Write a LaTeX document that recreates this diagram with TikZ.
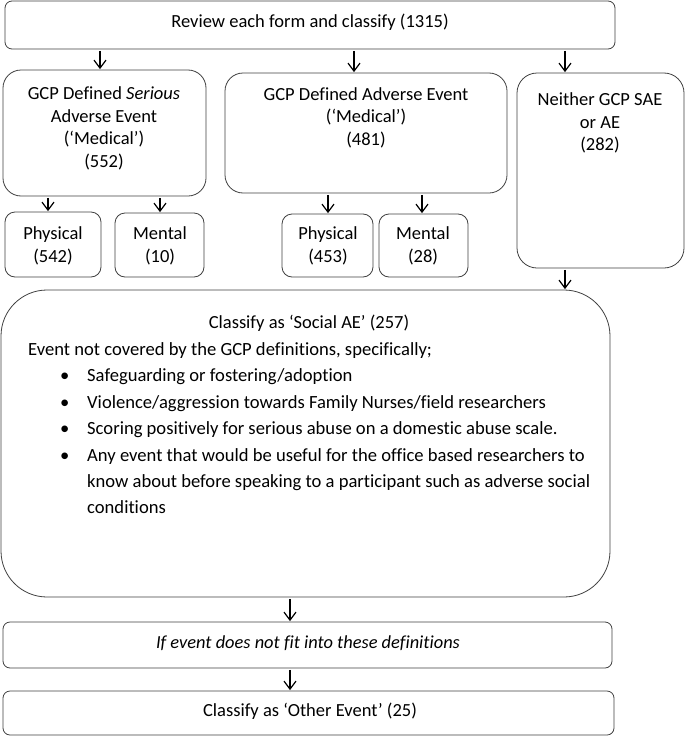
\documentclass[tikz,border=0pt]{standalone}
\usepackage{fontspec}
\setmainfont{Carlito}[Ligatures={NoCommon}]
\usetikzlibrary{arrows.meta}
\tikzset{
  box/.style={draw=black!75, line width=0.8pt, fill=white, inner sep=0pt},
  txt/.style={inner sep=0pt, align=center, font=\fontsize{18.5}{22.5}\selectfont},
  ltxt/.style={inner sep=0pt, anchor=base west, font=\fontsize{18.6}{22}\selectfont},
  arr/.style={draw=black, line width=1.2pt, -{Straight Barb[length=8pt,width=12pt,line width=1.2pt]}, shorten <=1.5pt, shorten >=0.5pt},
}
\begin{document}
\begin{tikzpicture}[x=1pt,y=-1pt]
\useasboundingbox (0,0) rectangle (685,736);
% boxes
\node[box, rounded corners=7pt, minimum width=610pt, minimum height=48pt] (top) at (310,25) {};
\node[box, rounded corners=18pt, minimum width=203pt, minimum height=126pt] (sae) at (104.5,133) {};
\node[box, rounded corners=18pt, minimum width=282pt, minimum height=120pt] (ae) at (366,133) {};
\node[box, rounded corners=20pt, minimum width=167pt, minimum height=195pt] (nei) at (600.5,170.5) {};
\node[box, rounded corners=10pt, minimum width=96pt, minimum height=65pt] (ph1) at (53,244.5) {};
\node[box, rounded corners=10pt, minimum width=89pt, minimum height=64pt] (me1) at (159.5,245) {};
\node[box, rounded corners=10pt, minimum width=91pt, minimum height=63pt] (ph2) at (327.5,245.5) {};
\node[box, rounded corners=10pt, minimum width=89pt, minimum height=63pt] (me2) at (423.5,245.5) {};
\node[box, rounded corners=46pt, minimum width=609pt, minimum height=307pt] (soc) at (305.5,443.5) {};
\node[box, rounded corners=7pt, minimum width=609pt, minimum height=46pt] (ifb) at (307.5,645) {};
\node[box, rounded corners=7pt, minimum width=611pt, minimum height=44pt] (oth) at (308.5,713) {};
% texts
\node[txt] (ttop) at (310,22) {Review each form and classify (1315)};
\node[txt] (tsae) at (104,128.5) {GCP Defined \textit{Serious}\\Adverse Event\\(‘Medical’)\\(552)};
\node[txt] (tae) at (366,117.5) {GCP Defined Adverse Event\\(‘Medical’)\\(481)};
\node[txt] (tnei) at (600,123) {Neither GCP SAE\\or AE\\(282)};
\node[txt] (tph1) at (53,246) {Physical\\(542)};
\node[txt] (tme1) at (160,246) {Mental\\(10)};
\node[txt] (tph2) at (328,246) {Physical\\(453)};
\node[txt] (tme2) at (423,246) {Mental\\(28)};
\node[txt] (tsoc) at (309,323) {Classify as ‘Social AE’ (257)};
\node[ltxt] (l0) at (28,355) {Event not covered by the GCP definitions, specifically;};
\node[ltxt] (b1) at (87,381.5) {Safeguarding or fostering/adoption};
\node[ltxt] (b2) at (87,408) {Violence/aggression towards Family Nurses/field researchers};
\node[ltxt] (b3) at (87,434.5) {Scoring positively for serious abuse on a domestic abuse scale.};
\node[ltxt] (b4) at (87,461) {Any event that would be useful for the office based researchers to};
\node[ltxt] (b5) at (87,487) {know about before speaking to a participant such as adverse social};
\node[ltxt] (b6) at (87,513) {conditions};
\foreach \n in {b1,b2,b3,b4} \node[ltxt] at ([xshift=-27pt]\n.base west) {•};
\node[txt, font=\fontsize{18.4}{22}\selectfont\itshape] (tifb) at (308,643) {If event does not fit into these definitions};
\node[txt] (toth) at (310,711) {Classify as ‘Other Event’ (25)};
% arrow x positions
\coordinate (c1) at (100,0);
\coordinate (c2) at (354,0);
\coordinate (c3) at (565,0);
\coordinate (c4) at (48,0);
\coordinate (c5) at (160,0);
\coordinate (c6) at (328,0);
\coordinate (c7) at (422,0);
\coordinate (c8) at (290,0);
\draw[arr] (top.south -| c1) -- (sae.north -| c1);
\draw[arr] (top.south -| c2) -- (ae.north -| c2);
\draw[arr] (top.south -| c3) -- (nei.north -| c3);
\draw[arr] (sae.south -| c4) -- (ph1.north -| c4);
\draw[arr] (sae.south -| c5) -- (me1.north -| c5);
\draw[arr] (ae.south -| c6) -- (ph2.north -| c6);
\draw[arr] (ae.south -| c7) -- (me2.north -| c7);
\draw[arr] (nei.south -| c3) -- (soc.north -| c3);
\draw[arr] (soc.south -| c8) -- (ifb.north -| c8);
\draw[arr] (ifb.south -| c8) -- (oth.north -| c8);
\end{tikzpicture}
\end{document}
